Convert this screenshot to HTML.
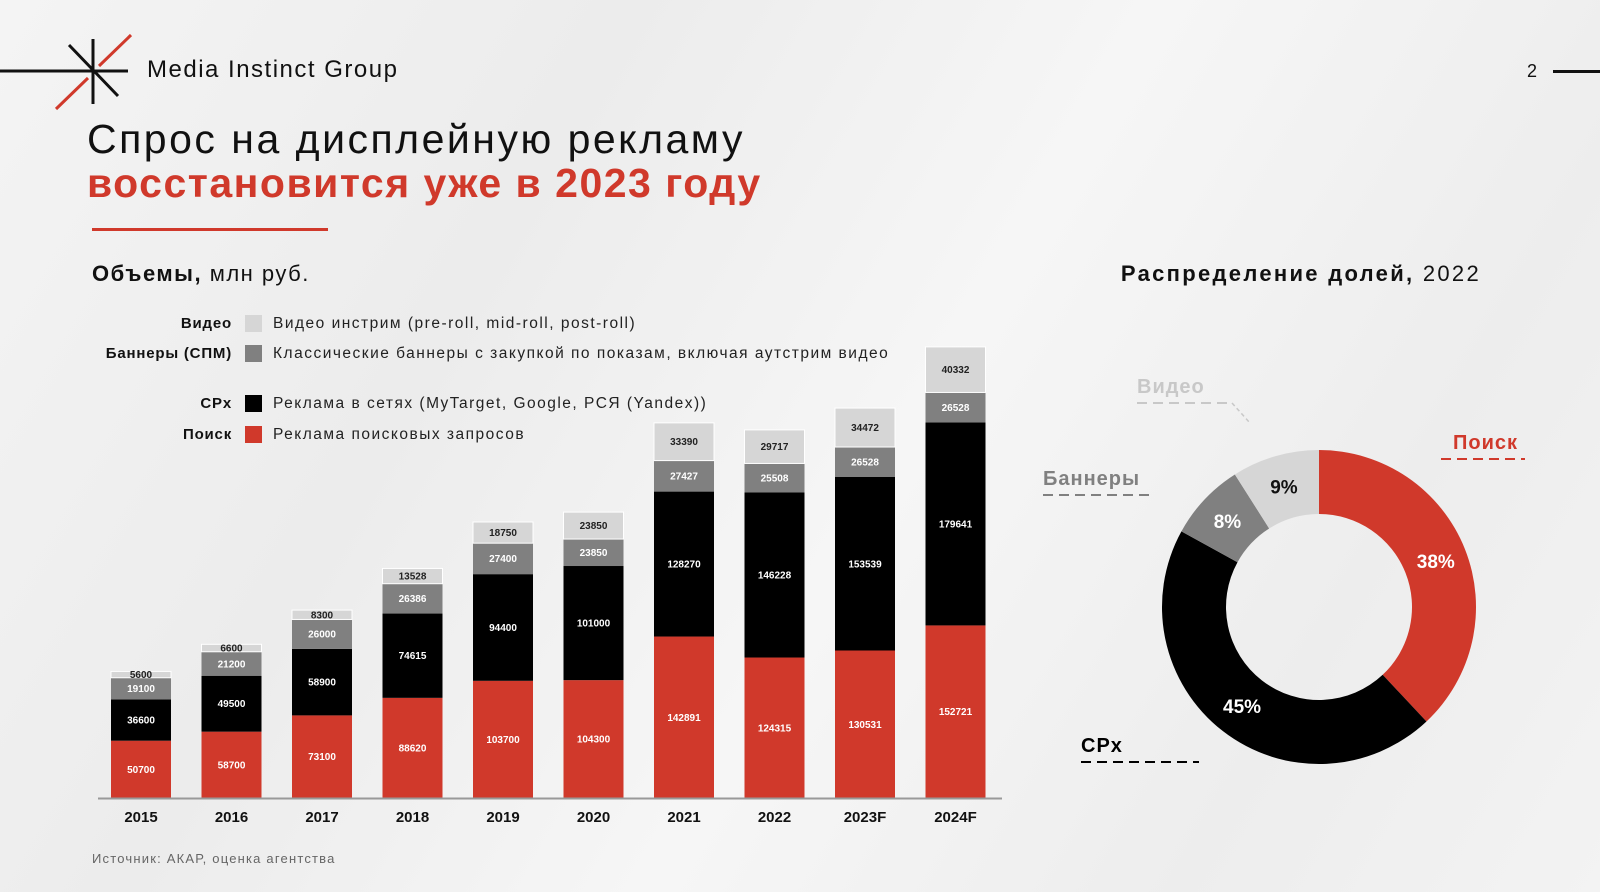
<!DOCTYPE html>
<html><head><meta charset="utf-8">
<style>
body{margin:0;width:1600px;height:892px;overflow:hidden;background:linear-gradient(120deg,#f4f4f4 0%,#ececec 30%,#f6f6f6 55%,#ededed 80%,#f3f3f3 100%);font-family:"Liberation Sans","DejaVu Sans",sans-serif;position:relative}
.a{position:absolute;white-space:nowrap}
</style></head><body>
<svg class="a" style="left:0;top:0" width="140" height="120">
<line x1="0" y1="71" x2="128" y2="71" stroke="#111" stroke-width="3"/>
<line x1="93" y1="39" x2="93" y2="104" stroke="#111" stroke-width="3"/>
<line x1="69" y1="45" x2="118" y2="96" stroke="#111" stroke-width="3"/>
<line x1="131" y1="35" x2="99" y2="66" stroke="#d0392b" stroke-width="3"/>
<line x1="88" y1="78" x2="56" y2="109" stroke="#d0392b" stroke-width="3"/>
</svg>
<div class="a" style="left:147px;top:56px;font-size:24px;color:#111;letter-spacing:1.5px">Media Instinct Group</div>
<div class="a" style="left:1527px;top:61px;font-size:18px;color:#111">2</div>
<div class="a" style="left:1553px;top:70px;width:47px;height:3px;background:#111"></div>
<div class="a" style="left:87px;top:116px;font-size:41px;color:#111;letter-spacing:2.5px">Спрос на дисплейную рекламу</div>
<div class="a" style="left:87px;top:160px;font-size:41px;color:#d0392b;font-weight:bold;letter-spacing:1.5px">восстановится уже в 2023 году</div>
<div class="a" style="left:92px;top:228px;width:236px;height:3px;background:#d0392b"></div>
<div class="a" style="left:92px;top:261px;font-size:22px;color:#111;letter-spacing:1.5px"><b>Объемы,</b> млн руб.</div>
<div class="a" style="right:119px;top:261px;font-size:22px;color:#111;letter-spacing:2.3px"><b>Распределение долей,</b> 2022</div>
<div class="a" style="left:92px;top:851px;font-size:13px;color:#666;letter-spacing:1.2px">Источник: АКАР, оценка агентства</div>
<svg id="c" class="a" style="left:0;top:0" width="1600" height="892"></svg>
<script>
const years=["2015","2016","2017","2018","2019","2020","2021","2022","2023F","2024F"];
const search=[50700,58700,73100,88620,103700,104300,142891,124315,130531,152721];
const cpx=[36600,49500,58900,74615,94400,101000,128270,146228,153539,179641];
const banners=[19100,21200,26000,26386,27400,23850,27427,25508,26528,26528];
const video=[5600,6600,8300,13528,18750,23850,33390,29717,34472,40332];
const legendKeys=["Видео","Баннеры (СПМ)","СРх","Поиск"];
const legendDescs=["Видео инстрим (pre-roll, mid-roll, post-roll)","Классические баннеры с закупкой по показам, включая аутстрим видео","Реклама в сетях (MyTarget, Google, РСЯ (Yandex))","Реклама поисковых запросов"];
const pieLabels=["Поиск","СРх","Баннеры","Видео"];
const pieValues=[38,45,8,9];
const NS="http://www.w3.org/2000/svg";
const svg=document.getElementById('c');
function mk(t,a){const e=document.createElementNS(NS,t);for(const k in a)e.setAttribute(k,a[k]);svg.appendChild(e);return e;}
const base=798,k=0.00113,x0=111,step=90.5,bw=60;
const y=v=>v*k;
const series=[search,cpx,banners,video];
const fills=["#d0392b","#000","#808080","#d6d6d6"];
const tcol=["#fff","#fff","#fff","#222"];
const names=["search","cpx","banners","video"];
years.forEach((yr,i)=>{
  let cum=0;const x=x0+i*step;
  series.forEach((s,j)=>{
    const h=y(s[i]);const top=base-cum-h;
    const r=mk('rect',{x:x,y:top,width:bw,height:h,fill:fills[j],stroke:j==3?"#fff":"none","stroke-width":j==3?1:0});
    
    
    const t=mk('text',{x:x+bw/2,y:top+h/2+3.5,"text-anchor":"middle","font-size":10,fill:tcol[j],"font-weight":"bold"});
    t.textContent=s[i];
    
    
    cum+=h;
  });
  const l=mk('text',{x:x+bw/2,y:822,"text-anchor":"middle","font-size":15,"font-weight":"bold",fill:"#111"});
  l.textContent=yr;
  
  
});
const ax=mk('line',{x1:98,y1:base+0.5,x2:1002,y2:base+0.5,stroke:"#999","stroke-width":2});


const ly=[323,353,403,434];
const lf=["#d6d6d6","#808080","#000","#d0392b"];
legendKeys.forEach((kk,i)=>{
  const a=mk('text',{x:232,y:ly[i]+5,"text-anchor":"end","font-size":15,"font-weight":"bold",fill:"#111","letter-spacing":0.8});a.textContent=kk;
  
  
  const r=mk('rect',{x:245,y:ly[i]-8,width:17,height:17,fill:lf[i]});
  
  
  const d=mk('text',{x:273,y:ly[i]+5,"font-size":15.5,fill:"#222","letter-spacing":1.5});d.textContent=legendDescs[i];
  
  
});
const cx=1319,cy=607,R=157,r0=93;
const pf=["#d0392b","#000","#808080","#d6d6d6"],pt=["#fff","#fff","#fff","#111"];
const tot=pieValues.reduce((a,b)=>a+b,0);let ang=0;
pieValues.forEach((v,i)=>{
  const a0=ang,a1=ang+v/tot*2*Math.PI;ang=a1;
  const P=(rr,a)=>[cx+rr*Math.sin(a),cy-rr*Math.cos(a)];
  const [x1,y1]=P(R,a0),[x2,y2]=P(R,a1),[x3,y3]=P(r0,a1),[x4,y4]=P(r0,a0);
  const lg=(a1-a0)>Math.PI?1:0;
  const p=mk('path',{d:`M${x1},${y1}A${R},${R} 0 ${lg} 1 ${x2},${y2}L${x3},${y3}A${r0},${r0} 0 ${lg} 0 ${x4},${y4}Z`,fill:pf[i]});
  
  
  const [tx,ty]=P(R*0.8,(a0+a1)/2);
  const t=mk('text',{x:tx,y:ty+7,"text-anchor":"middle","font-size":19,"font-weight":"bold",fill:pt[i]});
  t.textContent=v+"%";
  
  
});
const pl=[[1453,443,1441,1525,459,"#d0392b"],[1081,746,1081,1199,762,"#000"],[1043,479,1043,1150,495,"#808080"],[1137,387,1137,1232,403,"#c8c8c8"]];
pieLabels.forEach((n,i)=>{
  const c=pl[i];
  const t=mk('text',{x:c[0],y:c[1]+6,"font-size":20,"font-weight":"bold",fill:c[5],"letter-spacing":1});t.textContent=n;
  
  
  const l=mk('line',{x1:c[2],y1:c[4],x2:c[3],y2:c[4],stroke:c[5],"stroke-width":2,"stroke-dasharray":"10,6"});
  
  
});
const vl=mk('line',{x1:1232,y1:403,x2:1250,y2:423,stroke:"#c8c8c8","stroke-width":1.5,"stroke-dasharray":"4,3"});


</script>
</body></html>
